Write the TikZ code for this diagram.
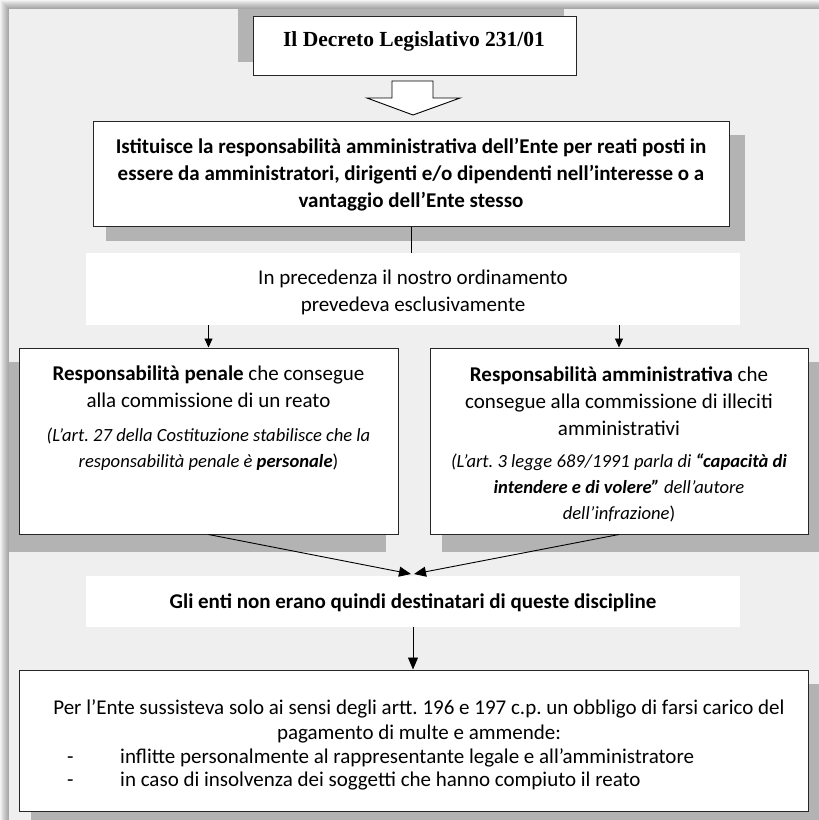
\documentclass[tikz,border=0pt]{standalone}
\usepackage{fontspec}
\setmainfont{Carlito}
\newfontfamily\titlefont{Liberation Serif}
\usetikzlibrary{arrows.meta}
\definecolor{panelgray}{HTML}{EFEFEF}
\definecolor{shadowgray}{HTML}{B3B3B3}
\frenchspacing
\begin{document}
\begin{tikzpicture}[x=1pt,y=-1pt,
  box/.style={draw=black!85, line width=1pt, fill=white, inner sep=0pt},
  plain/.style={fill=white, inner sep=0pt},
  txt/.style={inner sep=0pt, align=center, font=\fontsize{21}{27}\selectfont},
  note/.style={inner sep=0pt, align=center, font=\fontsize{18.6}{26}\selectfont\itshape},
  arr/.style={-{Triangle[length=9pt,width=8pt]}, line width=0.9pt},
  bigarr/.style={-{Triangle[length=12pt,width=10pt]}, line width=0.9pt},
  conn/.style={line width=0.9pt}]
\useasboundingbox (0,0) rectangle (819,820);
\fill[white] (0,0) rectangle (819,820);
\foreach \i in {1,...,9} \fill[black,opacity=0.045] ({9-\i},{9-\i}) rectangle (819,820);
\fill[panelgray] (9,9) rectangle (819,820);
% shadows
\fill[shadowgray] (238,9) rectangle (564,62);
\fill[shadowgray] (106,135) rectangle (745,241);
\fill[shadowgray] (9,362) rectangle (386,552);
\fill[shadowgray] (442,362) rectangle (819,552);
\fill[shadowgray] (31,684) rectangle (819,820);
% boxes
\node[box, minimum width=323, minimum height=59] (decreto) at (414.5,45.5) {};
\node[inner sep=0pt, font=\titlefont\bfseries\fontsize{21.5}{24}\selectfont] (decretotxt) at (414,41) {Il Decreto Legislativo 231/01};
\draw[fill=white, line width=0.9pt, line join=miter] (392,81) -- (433,81) -- (433,98) -- (460,98) -- (413,115) -- (367,98) -- (392,98) -- cycle;
\node[box, minimum width=636, minimum height=105] (ist) at (411,173.5) {};
\node[txt, font=\fontsize{21}{27}\selectfont\bfseries] (isttxt) at (411,175) {Istituisce la responsabilità amministrativa dell’Ente per reati posti in\\essere da amministratori, dirigenti e/o dipendenti nell’interesse o a\\vantaggio dell’Ente stesso};
\node[plain, minimum width=654, minimum height=72] (prec) at (413,289) {};
\node[txt] (prectxt) at (413,292) {In precedenza il nostro ordinamento\\prevedeva esclusivamente};
\node[box, minimum width=379, minimum height=186] (pen) at (208.5,441) {};
\node[txt] (pentxt) at (208.5,387) {\textbf{Responsabilità penale} che consegue\\alla commissione di un reato};
\node[note] (pennote) at (208.5,449) {(L’art. 27 della Costituzione stabilisce che la\\responsabilità penale è \textbf{personale}\/\upshape)};
\node[box, minimum width=378, minimum height=186] (amm) at (619,441) {};
\node[txt] (ammtxt) at (619,401) {\textbf{Responsabilità amministrativa} che\\consegue alla commissione di illeciti\\amministrativi};
\node[note] (ammnote) at (619,488) {(L’art. 3 legge 689/1991 parla di \textbf{“capacità di}\\\textbf{intendere e di volere”} dell’autore\\dell’infrazione\/\upshape)};
\node[plain, minimum width=654, minimum height=51] (gli) at (413,601.5) {};
\node[txt, font=\fontsize{21}{27}\selectfont\bfseries] (glitxt) at (413,603) {Gli enti non erano quindi destinatari di queste discipline};
\node[box, minimum width=789, minimum height=141] (fine) at (413.5,740.5) {};
\node[txt, font=\fontsize{21}{25}\selectfont] (finetxt) at (419,721) {Per l’Ente sussisteva solo ai sensi degli artt. 196 e 197 c.p. un obbligo di farsi carico del\\pagamento di multe e ammende:};
\node[txt, anchor=base west] (dash1) at (67,763) {-};
\node[txt, anchor=base west] (item1) at (120,763) {inflitte personalmente al rappresentante legale e all’amministratore};
\node[txt, anchor=base west] (dash2) at (67,786) {-};
\node[txt, anchor=base west] (item2) at (120,786) {in caso di insolvenza dei soggetti che hanno compiuto il reato};
% connectors
\draw[conn] (ist.south) -- (ist.south |- prec.north);
\draw[arr] (pen.north |- prec.south) -- (pen.north);
\draw[arr] (amm.north |- prec.south) -- (amm.north);
\coordinate (meetL) at (411,574);
\coordinate (meetR) at (414,574);
\draw[bigarr] (pen.south) -- (meetL);
\draw[bigarr] (amm.south) -- (meetR);
\draw[bigarr] (gli.south) -- (gli.south |- fine.north);
\end{tikzpicture}
\end{document}
